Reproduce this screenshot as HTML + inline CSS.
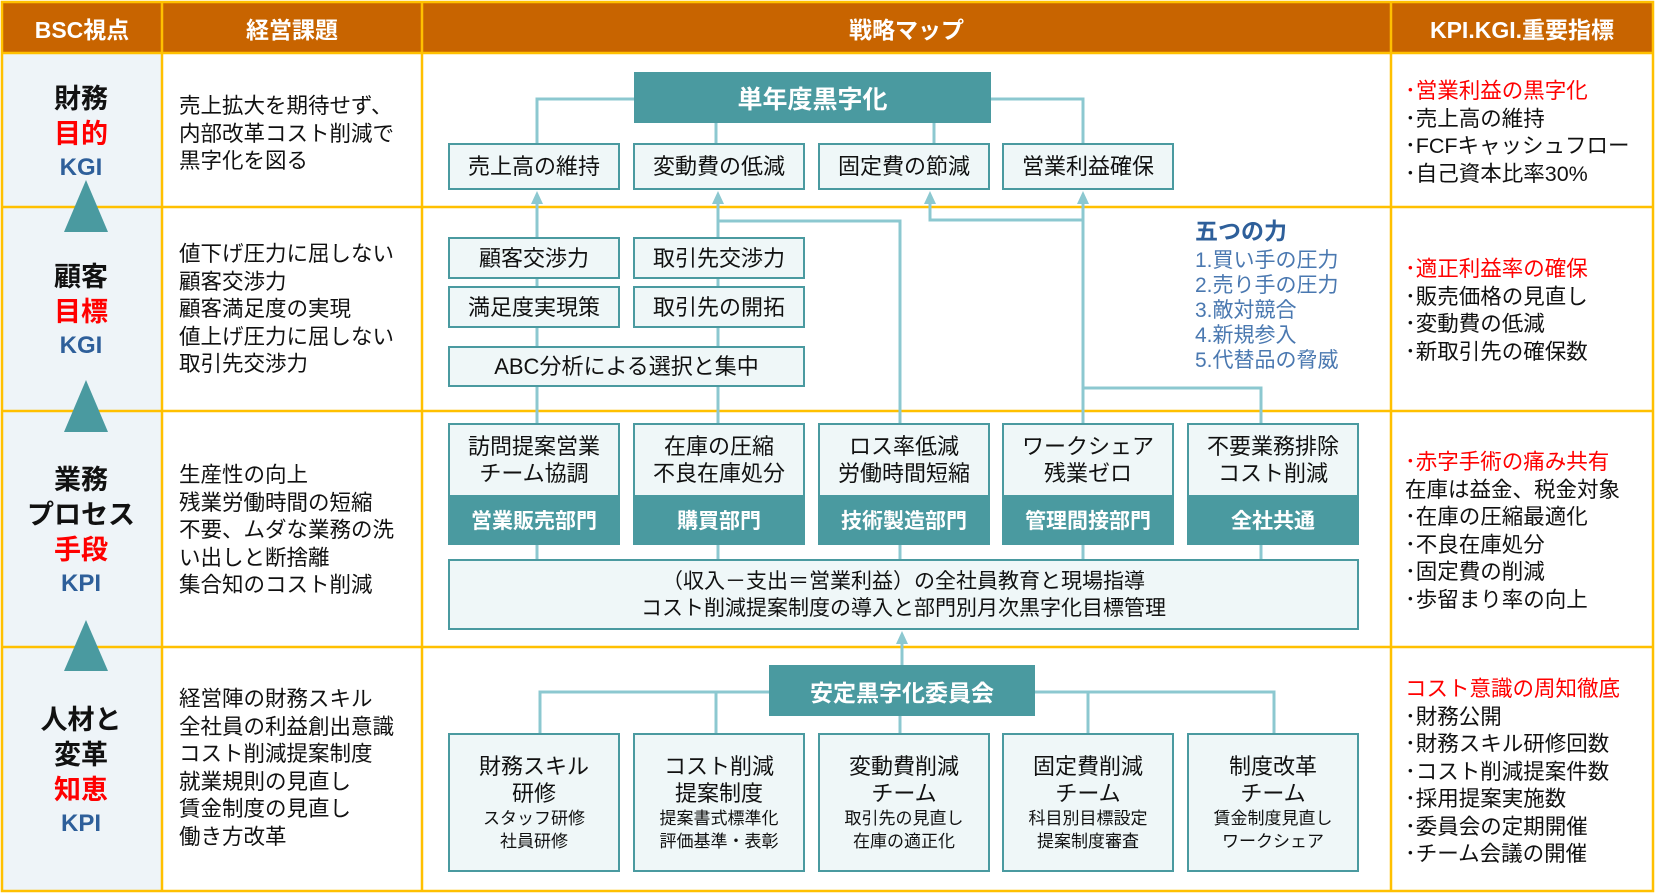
<!DOCTYPE html>
<html><head><meta charset="utf-8"><style>
*{margin:0;padding:0;box-sizing:border-box}
body{width:1656px;height:893px;position:relative;background:#fff;font-family:"Liberation Sans","Noto Sans CJK JP",sans-serif;overflow:hidden;color:#111}
.a{position:absolute}
.hd{position:absolute;top:2px;height:51px;background:#C86400;color:#fff;font-weight:bold;font-size:23px;display:flex;align-items:center;justify-content:center}
.bx{position:absolute;background:#EFF7F8;border:2.5px solid #4A9AA0;display:flex;align-items:center;justify-content:center;font-size:22px;text-align:center;line-height:27px}
.tb{position:absolute;background:#4A9AA0;color:#fff;font-weight:bold;display:flex;align-items:center;justify-content:center}
.lbl{position:absolute;left:0;width:162px;text-align:center;font-weight:bold;font-size:27px;line-height:35px}
.red{color:#f00}.blue{color:#2E5F9A}
.txt{position:absolute;font-size:21.5px;line-height:27.5px;white-space:nowrap}
.sub{font-size:17px;line-height:23px}
</style></head><body>
<div class="a" style="left:2px;top:53px;width:160px;height:838px;background:#EEF4F8"></div>
<div class="hd" style="left:2px;width:160px">BSC視点</div>
<div class="hd" style="left:162px;width:260px">経営課題</div>
<div class="hd" style="left:422px;width:969px">戦略マップ</div>
<div class="hd" style="left:1391px;width:262px">KPI.KGI.重要指標</div>
<svg class="a" style="left:0;top:0" width="1656" height="893">
<g stroke="#FFC000" stroke-width="2.5" fill="none">
<rect x="2" y="2" width="1651" height="889"/>
<line x1="162" y1="2" x2="162" y2="891"/><line x1="422" y1="2" x2="422" y2="891"/><line x1="1391" y1="2" x2="1391" y2="891"/>
<line x1="2" y1="53" x2="1653" y2="53"/><line x1="2" y1="207" x2="1653" y2="207"/><line x1="2" y1="411" x2="1653" y2="411"/><line x1="2" y1="647" x2="1653" y2="647"/>
</g>
<g fill="#4A9AA0">
<polygon points="86,180 64,232 108,232"/><polygon points="86,380 64,432 108,432"/><polygon points="86,620 64,671 108,671"/>
</g>
<g stroke="#8CC8D0" stroke-width="3" fill="none">
<polyline points="634,99 537,99 537,143"/><polyline points="991,99 1083,99 1083,143"/>
<line x1="716" y1="123" x2="716" y2="143"/><line x1="934" y1="123" x2="934" y2="143"/>
<line x1="537" y1="200" x2="537" y2="423"/><line x1="718" y1="200" x2="718" y2="423"/>
<polyline points="718,221 900,221 900,423"/>
<polyline points="930,200 930,220 1083,220"/>
<line x1="1083" y1="200" x2="1083" y2="423"/>
<polyline points="1083,388 1261,388 1261,423"/>
<line x1="537" y1="545" x2="537" y2="559"/><line x1="718" y1="545" x2="718" y2="559"/><line x1="900" y1="545" x2="900" y2="559"/><line x1="1083" y1="545" x2="1083" y2="559"/><line x1="1261" y1="545" x2="1261" y2="559"/>
<line x1="902" y1="640" x2="902" y2="665"/>
<polyline points="540,733 540,692 1274,692 1274,733"/>
<line x1="716" y1="692" x2="716" y2="733"/><line x1="900" y1="716" x2="900" y2="733"/><line x1="1088" y1="692" x2="1088" y2="733"/>
</g>
<g fill="#8CC8D0">
<polygon points="537,191 531,204 543,204"/><polygon points="718,191 712,204 724,204"/><polygon points="930,191 924,204 936,204"/><polygon points="1083,191 1077,204 1089,204"/><polygon points="902,631 896,644 908,644"/>
</g>
</svg>
<div class="lbl" style="top:82px">財務</div><div class="lbl red" style="top:117px">目的</div><div class="lbl blue" style="top:150px;font-size:24px">KGI</div>
<div class="lbl" style="top:260px">顧客</div><div class="lbl red" style="top:295px">目標</div><div class="lbl blue" style="top:328px;font-size:24px">KGI</div>
<div class="lbl" style="top:463px">業務</div><div class="lbl" style="top:498px">プロセス</div><div class="lbl red" style="top:533px">手段</div><div class="lbl blue" style="top:566px;font-size:24px">KPI</div>
<div class="lbl" style="top:703px">人材と</div><div class="lbl" style="top:738px">変革</div><div class="lbl red" style="top:773px">知恵</div><div class="lbl blue" style="top:806px;font-size:24px">KPI</div>
<div class="txt" style="left:179px;top:93px">売上拡大を期待せず、<br>内部改革コスト削減で<br>黒字化を図る</div>
<div class="txt" style="left:179px;top:241px">値下げ圧力に屈しない<br>顧客交渉力<br>顧客満足度の実現<br>値上げ圧力に屈しない<br>取引先交渉力</div>
<div class="txt" style="left:179px;top:462px">生産性の向上<br>残業労働時間の短縮<br>不要、ムダな業務の洗<br>い出しと断捨離<br>集合知のコスト削減</div>
<div class="txt" style="left:179px;top:686px">経営陣の財務スキル<br>全社員の利益創出意識<br>コスト削減提案制度<br>就業規則の見直し<br>賃金制度の見直し<br>働き方改革</div>
<div class="txt" style="left:1405px;top:78px"><span class="red">･営業利益の黒字化</span><br>･売上高の維持<br>･FCFキャッシュフロー<br>･自己資本比率30%</div>
<div class="txt" style="left:1405px;top:256px"><span class="red">･適正利益率の確保</span><br>･販売価格の見直し<br>･変動費の低減<br>･新取引先の確保数</div>
<div class="txt" style="left:1405px;top:449px"><span class="red">･赤字手術の痛み共有</span><br>在庫は益金、税金対象<br>･在庫の圧縮最適化<br>･不良在庫処分<br>･固定費の削減<br>･歩留まり率の向上</div>
<div class="txt" style="left:1405px;top:676px"><span class="red">コスト意識の周知徹底</span><br>･財務公開<br>･財務スキル研修回数<br>･コスト削減提案件数<br>･採用提案実施数<br>･委員会の定期開催<br>･チーム会議の開催</div>
<div class="txt" style="left:1195px;top:218px;color:#2E5F9A;font-weight:bold;font-size:23px">五つの力</div>
<div class="txt" style="left:1195px;top:248px;color:#4A78B0;line-height:25px;font-size:21px">1.買い手の圧力<br>2.売り手の圧力<br>3.敵対競合<br>4.新規参入<br>5.代替品の脅威</div>
<div class="tb" style="left:634px;top:72px;width:357px;height:51px;font-size:25px">単年度黒字化</div>
<div class="bx" style="left:448px;top:143px;width:172px;height:47px">売上高の維持</div>
<div class="bx" style="left:633px;top:143px;width:172px;height:47px">変動費の低減</div>
<div class="bx" style="left:818px;top:143px;width:172px;height:47px">固定費の節減</div>
<div class="bx" style="left:1002px;top:143px;width:172px;height:47px">営業利益確保</div>
<div class="bx" style="left:448px;top:237px;width:172px;height:42px">顧客交渉力</div>
<div class="bx" style="left:633px;top:237px;width:172px;height:42px">取引先交渉力</div>
<div class="bx" style="left:448px;top:286px;width:172px;height:42px">満足度実現策</div>
<div class="bx" style="left:633px;top:286px;width:172px;height:42px">取引先の開拓</div>
<div class="bx" style="left:448px;top:346px;width:357px;height:41px">ABC分析による選択と集中</div>
<div class="bx" style="left:448px;top:423px;width:172px;height:122px;align-items:flex-start;padding-top:8px">訪問提案営業<br>チーム協調</div>
<div class="bx" style="left:633px;top:423px;width:172px;height:122px;align-items:flex-start;padding-top:8px">在庫の圧縮<br>不良在庫処分</div>
<div class="bx" style="left:818px;top:423px;width:172px;height:122px;align-items:flex-start;padding-top:8px">ロス率低減<br>労働時間短縮</div>
<div class="bx" style="left:1002px;top:423px;width:172px;height:122px;align-items:flex-start;padding-top:8px">ワークシェア<br>残業ゼロ</div>
<div class="bx" style="left:1187px;top:423px;width:172px;height:122px;align-items:flex-start;padding-top:8px">不要業務排除<br>コスト削減</div>
<div class="tb" style="left:448px;top:495px;width:172px;height:50px;font-size:21px">営業販売部門</div>
<div class="tb" style="left:633px;top:495px;width:172px;height:50px;font-size:21px">購買部門</div>
<div class="tb" style="left:818px;top:495px;width:172px;height:50px;font-size:21px">技術製造部門</div>
<div class="tb" style="left:1002px;top:495px;width:172px;height:50px;font-size:21px">管理間接部門</div>
<div class="tb" style="left:1187px;top:495px;width:172px;height:50px;font-size:21px">全社共通</div>
<div class="bx" style="left:448px;top:559px;width:911px;height:71px;font-size:21px">（収入－支出＝営業利益）の全社員教育と現場指導<br>コスト削減提案制度の導入と部門別月次黒字化目標管理</div>
<div class="tb" style="left:769px;top:665px;width:266px;height:51px;font-size:23px">安定黒字化委員会</div>
<div class="bx" style="left:448px;top:733px;width:172px;height:139px;flex-direction:column">財務スキル<br>研修<div class="sub">スタッフ研修<br>社員研修</div></div>
<div class="bx" style="left:633px;top:733px;width:172px;height:139px;flex-direction:column">コスト削減<br>提案制度<div class="sub">提案書式標準化<br>評価基準・表彰</div></div>
<div class="bx" style="left:818px;top:733px;width:172px;height:139px;flex-direction:column">変動費削減<br>チーム<div class="sub">取引先の見直し<br>在庫の適正化</div></div>
<div class="bx" style="left:1002px;top:733px;width:172px;height:139px;flex-direction:column">固定費削減<br>チーム<div class="sub">科目別目標設定<br>提案制度審査</div></div>
<div class="bx" style="left:1187px;top:733px;width:172px;height:139px;flex-direction:column">制度改革<br>チーム<div class="sub">賃金制度見直し<br>ワークシェア</div></div>
</body></html>
